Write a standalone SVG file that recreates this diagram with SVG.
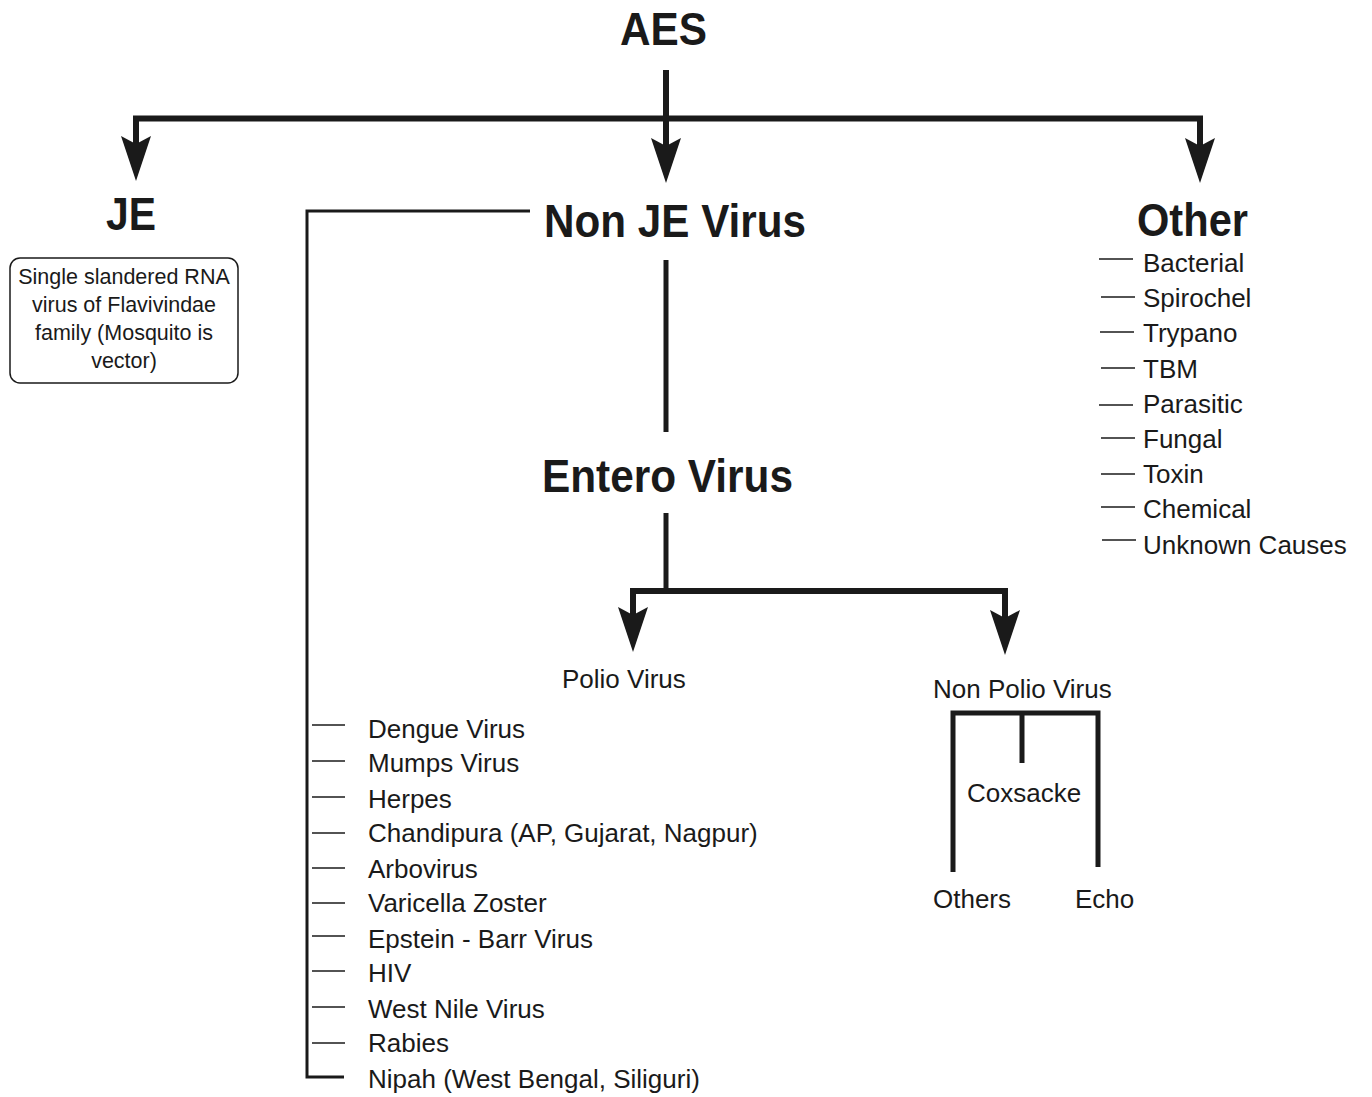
<svg xmlns="http://www.w3.org/2000/svg" xmlns:xlink="http://www.w3.org/1999/xlink" width="1372" height="1097" viewBox="0 0 1372 1097">
<style>
.t{font-family:"Liberation Sans",Arial,sans-serif;fill:#1a1a1a}
.b{font-weight:bold;font-size:46px}
.r{font-size:26px}
.s{font-size:21.5px}
.thick{stroke:#1a1a1a;stroke-width:6;fill:none;stroke-linejoin:miter}
.mid{stroke:#1a1a1a;stroke-width:5;fill:none}
.br{stroke:#1a1a1a;stroke-width:3;fill:none}
.tk{stroke:#1a1a1a;stroke-width:1.5}
</style>
<defs>
<path id="ah" d="M0,0 L-15,-45 L0,-37 L15,-45 Z" fill="#1a1a1a"/>
</defs>
<rect width="1372" height="1097" fill="#fff"/>
<g id="connectors">
<path class="thick" d="M136,150 V118.5 H1200 V150"/>
<path class="thick" d="M666,70 V150"/>
<use xlink:href="#ah" x="136" y="181"/>
<use xlink:href="#ah" x="666" y="183"/>
<use xlink:href="#ah" x="1200" y="183"/>
<path class="br" d="M530,211 H307 V1077 H344"/>
<path class="mid" d="M666,260 V432"/>
<path class="mid" d="M666,513 V591"/>
<path class="thick" d="M633,620 V591 H1005 V620"/>
<use xlink:href="#ah" x="633" y="652"/>
<use xlink:href="#ah" x="1005" y="655"/>
<path class="mid" d="M953,872 V713 H1098 V867 M1022,713 V763"/>
<g class="tk">
<line x1="312" y1="725" x2="345" y2="725"/>
<line x1="312" y1="761" x2="345" y2="761"/>
<line x1="312" y1="797" x2="345" y2="797"/>
<line x1="312" y1="833" x2="345" y2="833"/>
<line x1="312" y1="868" x2="345" y2="868"/>
<line x1="312" y1="903" x2="345" y2="903"/>
<line x1="312" y1="936" x2="345" y2="936"/>
<line x1="312" y1="971" x2="345" y2="971"/>
<line x1="312" y1="1007" x2="345" y2="1007"/>
<line x1="312" y1="1043" x2="345" y2="1043"/>
<line x1="1099" y1="259" x2="1133" y2="259"/>
<line x1="1101" y1="297" x2="1135" y2="297"/>
<line x1="1100" y1="332" x2="1134" y2="332"/>
<line x1="1101" y1="368" x2="1135" y2="368"/>
<line x1="1099" y1="405" x2="1133" y2="405"/>
<line x1="1101" y1="438" x2="1135" y2="438"/>
<line x1="1101" y1="474" x2="1135" y2="474"/>
<line x1="1101" y1="507" x2="1135" y2="507"/>
<line x1="1102" y1="540" x2="1136" y2="540"/>
</g>
</g>
<g id="aes"><text class="t b" x="620" y="45" textLength="87" lengthAdjust="spacingAndGlyphs">AES</text></g>
<g id="je">
<text class="t b" x="106" y="230" textLength="50" lengthAdjust="spacingAndGlyphs">JE</text>
<rect x="10" y="258" width="228" height="125" rx="10" ry="10" fill="none" stroke="#1a1a1a" stroke-width="1.5"/>
<g class="t s" text-anchor="middle">
<text x="124" y="284">Single slandered RNA</text>
<text x="124" y="312">virus of Flavivindae</text>
<text x="124" y="340">family (Mosquito is</text>
<text x="124" y="368">vector)</text>
</g>
</g>
<g id="nonje">
<text class="t b" x="544" y="237" textLength="262" lengthAdjust="spacingAndGlyphs">Non JE Virus</text>
<g class="t r">
<text x="368" y="738">Dengue Virus</text>
<text x="368" y="772">Mumps Virus</text>
<text x="368" y="808">Herpes</text>
<text x="368" y="842">Chandipura (AP, Gujarat, Nagpur)</text>
<text x="368" y="878">Arbovirus</text>
<text x="368" y="912">Varicella Zoster</text>
<text x="368" y="948">Epstein - Barr Virus</text>
<text x="368" y="982">HIV</text>
<text x="368" y="1018">West Nile Virus</text>
<text x="368" y="1052">Rabies</text>
<text x="368" y="1088">Nipah (West Bengal, Siliguri)</text>
</g>
</g>
<g id="other">
<text class="t b" x="1137" y="236" textLength="111" lengthAdjust="spacingAndGlyphs">Other</text>
<g class="t r">
<text x="1143" y="272">Bacterial</text>
<text x="1143" y="307">Spirochel</text>
<text x="1143" y="342">Trypano</text>
<text x="1143" y="378">TBM</text>
<text x="1143" y="413">Parasitic</text>
<text x="1143" y="448">Fungal</text>
<text x="1143" y="483">Toxin</text>
<text x="1143" y="518">Chemical</text>
<text x="1143" y="554">Unknown Causes</text>
</g>
</g>
<g id="entero"><text class="t b" x="542" y="492" textLength="251" lengthAdjust="spacingAndGlyphs">Entero Virus</text></g>
<g id="polio"><text class="t r" x="562" y="688">Polio Virus</text></g>
<g id="nonpolio"><text class="t r" x="933" y="698">Non Polio Virus</text></g>
<g id="coxsacke"><text class="t r" x="967" y="802">Coxsacke</text></g>
<g id="others"><text class="t r" x="933" y="908">Others</text></g>
<g id="echo"><text class="t r" x="1075" y="908">Echo</text></g>
</svg>
